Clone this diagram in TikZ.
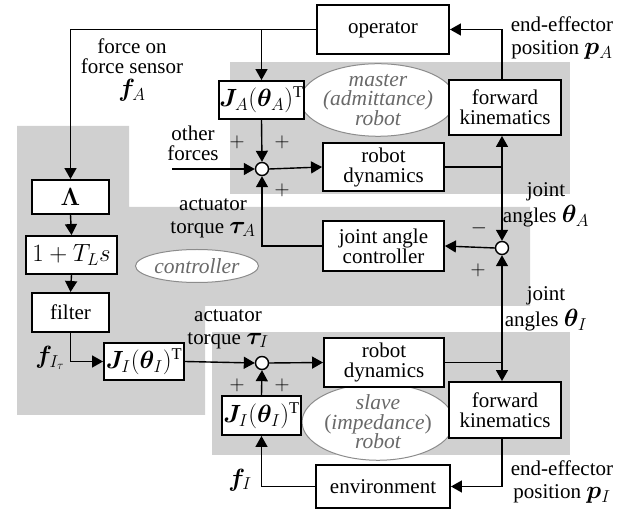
\documentclass[tikz,border=0pt]{standalone}
\usepackage{fontspec}
\setmainfont{Liberation Serif}
\usepackage{amsmath,bm}
\usetikzlibrary{arrows.meta,shadows,shapes.geometric}

\definecolor{zone}{RGB}{208,208,208}
\definecolor{tagline}{RGB}{140,140,140}
\definecolor{tagtext}{RGB}{105,105,105}

% math symbols are set a little larger than the running text
\newcommand{\mymath}[1]{{\fontsize{23.5}{20}\selectfont$#1$}}

\tikzset{
  blk/.style={draw, line width=1.9pt, fill=white, align=center, inner sep=0pt,
    drop shadow={shadow xshift=1pt, shadow yshift=-1pt, opacity=0.35, fill=black}},
  sumnode/.style={circle, draw, line width=1.4pt, fill=white, minimum size=13pt, inner sep=0pt},
  tag/.style={ellipse, draw=tagline, line width=1pt, fill=white, text=tagtext,
    align=center, inner sep=0pt, font=\fontsize{21.5}{19.5}\selectfont\itshape},
  lbl/.style={align=center, inner sep=0pt},
  sig/.style={line width=1.4pt, -{Triangle[length=11pt,width=12pt]}},
  sigb/.style={line width=1.4pt, {Triangle[length=11pt,width=12pt]}-{Triangle[length=11pt,width=12pt]}},
  wire/.style={line width=1.4pt},
  pm/.style={inner sep=0pt, font=\fontsize{22}{22}\selectfont}
}

\begin{document}
\begin{tikzpicture}[x=1pt, y=-1pt, font=\fontsize{21}{20}\selectfont]
\useasboundingbox (0,0) rectangle (638,510);

% shaded subsystems
\fill[zone] (230,62) rectangle (570,194);
\fill[zone] (17,126) -- (129,126) -- (129,207) -- (530,207) -- (530,306)
  -- (205,306) -- (205,415) -- (17,415) -- cycle;
\fill[zone] (212,332) rectangle (570,455);

% subsystem tags
\node[tag, minimum width=139pt, minimum height=64pt] (tagM) at (378,100)
  {master\\(admittance)\\robot};
\node[tag, minimum width=123pt, minimum height=33pt] (tagC) at (197,266) {controller};
\node[tag, minimum width=124pt, minimum height=61pt] (tagS) at (378,422)
  {slave\\\textup{(}impedance\textup{)}\\robot};

% blocks
\node[blk, minimum width=132pt, minimum height=49pt] (op) at (383,29.5) {operator};
\node[blk, minimum width=79pt, minimum height=38pt] (JA) at (261.5,100)
  {\mymath{\bm{J}_A(\bm{\theta}_A)^{\mathrm{T}}}};
\node[blk, minimum width=112pt, minimum height=55pt] (fkA) at (505,107.5)
  {forward\\kinematics};
\node[blk, minimum width=121pt, minimum height=48pt] (rdA) at (383.5,167)
  {robot\\dynamics};
\node[blk, minimum width=77pt, minimum height=34pt] (lam) at (70.5,197)
  {\mymath{\bm{\Lambda}}};
\node[blk, minimum width=91pt, minimum height=38pt] (lead) at (71.5,255)
  {\mymath{1+T_L s}};
\node[blk, minimum width=77pt, minimum height=39pt] (filt) at (70.5,312.5)
  {filter};
\node[blk, minimum width=80pt, minimum height=37pt] (JC) at (144,361.5)
  {\mymath{\bm{J}_I(\bm{\theta}_I)^{\mathrm{T}}}};
\node[blk, minimum width=121pt, minimum height=50pt] (jac) at (383.5,246)
  {joint angle\\controller};
\node[blk, minimum width=79pt, minimum height=39pt] (JS) at (261.5,415.5)
  {\mymath{\bm{J}_I(\bm{\theta}_I)^{\mathrm{T}}}};
\node[blk, minimum width=120pt, minimum height=49pt] (rdI) at (384,362.5)
  {robot\\dynamics};
\node[blk, minimum width=112pt, minimum height=56pt] (fkI) at (505,410)
  {forward\\kinematics};
\node[blk, minimum width=134pt, minimum height=43pt] (env) at (383,486.5)
  {environment};

% summing junctions
\node[sumnode] (sA) at (262,169) {};
\node[sumnode] (sB) at (502,248) {};
\node[sumnode] (sI) at (262,363) {};
\coordinate (oth) at (172,169);

% master side
\draw[sig] (op.west) -| (lam.north);
\draw[sig] (JA |- op.west) -- (JA.north);
\draw[sig] (JA.south) -- (sA.north);
\draw[sig] (oth) -- (sA.west);
\draw[sig] (sA.east) -- (rdA.west);
\draw[wire] (rdA.east) -- (sB |- rdA.east);
\draw[sig] (sB |- fkA.north) |- (op.east);
\draw[sigb] (sB |- fkA.south) -- (sB.north);
\draw[sig] (sB.west) -- (jac.east);
\draw[sig] (jac.west) -| (sA.south);

% controller chain
\draw[sig] (lam.south) -- (lead.north);
\draw[sig] (lead.south) -- (filt.north);
\draw[sig] (filt.south) |- (JC.west);
\draw[sig] (JC.east) -- (sI.west);

% slave side
\draw[sig] (sI.east) -- (rdI.west);
\draw[wire] (rdI.east) -- (sB |- rdI.east);
\draw[sigb] (sB.south) -- (sB |- fkI.north);
\draw[sig] (sB |- fkI.south) |- (env.east);
\draw[sig] (env.west) -| (JS.south);
\draw[sig] (JS.north) -- (sI.south);

% signal labels
\node[lbl] (lfA) at (132,70) {force on\\force sensor\\[3pt]\mymath{\bm{f}_A}};
\node[lbl] (loth) at (193,143) {other\\forces};
\node[lbl] (ltA) at (213,218) {actuator\\[3pt]torque \mymath{\bm{\tau}_A}};
\node[lbl] (lthA) at (546,205) {joint\\[3pt]angles \mymath{\bm{\theta}_A}};
\node[lbl] (lpA) at (562,38) {end-effector\\[3pt]position \mymath{\bm{p}_A}};
\node[lbl] (ltI) at (228,329) {actuator\\[3pt]torque \mymath{\bm{\tau}_I}};
\node[lbl] (lthI) at (546,309) {joint\\[3pt]angles \mymath{\bm{\theta}_I}};
\node[lbl] (lpI) at (562,482) {end-effector\\[3pt]position \mymath{\bm{p}_I}};
\node[lbl] (lfIt) at (50,358) {\mymath{\bm{f}_{I_\tau}}};
\node[lbl] (lfI) at (240,480) {\mymath{\bm{f}_I}};

% signs at the junctions
\node[pm] (p1) at (237,142) {$+$};
\node[pm] (p2) at (282,142) {$+$};
\node[pm] (p3) at (282,190) {$+$};
\node[pm] (p4) at (479,228) {$-$};
\node[pm] (p5) at (478,270) {$+$};
\node[pm] (p6) at (237,385) {$+$};
\node[pm] (p7) at (282,385) {$+$};
\end{tikzpicture}
\end{document}
